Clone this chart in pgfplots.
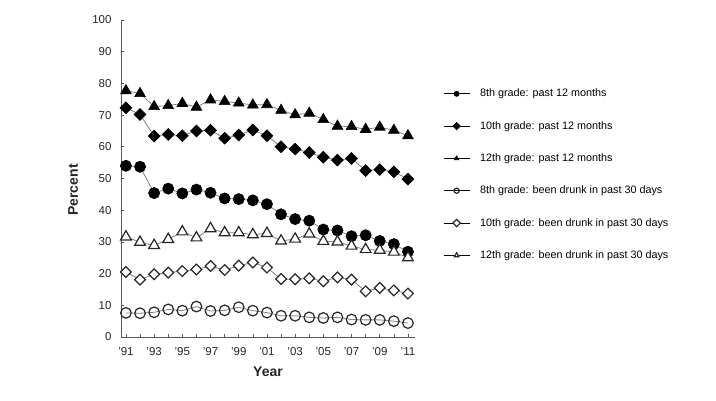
\documentclass[border=0pt]{standalone}
\usepackage{fontspec}
\setmainfont{Liberation Sans}
\usepackage{pgfplots}
\usepackage{pgfplotstable}
\pgfplotsset{compat=1.18}
\pgfplotstableread{
year a8 a10 a12 d8 d10 d12
1991 54.0 72.3 77.7 7.6 20.5 31.6
1992 53.7 70.2 76.8 7.5 18.1 29.9
1993 45.4 63.4 72.7 7.8 19.8 28.9
1994 46.8 63.9 73.0 8.7 20.3 30.8
1995 45.3 63.5 73.7 8.3 20.8 33.2
1996 46.5 65.0 72.5 9.6 21.3 31.3
1997 45.5 65.2 74.8 8.2 22.4 34.2
1998 43.7 62.7 74.3 8.4 21.1 32.9
1999 43.5 63.7 73.8 9.4 22.5 32.9
2000 43.1 65.3 73.2 8.3 23.5 32.3
2001 41.9 63.5 73.3 7.7 21.9 32.7
2002 38.7 60.0 71.5 6.7 18.3 30.3
2003 37.2 59.3 70.1 6.7 18.2 30.9
2004 36.7 58.2 70.6 6.2 18.5 32.5
2005 33.9 56.7 68.6 6.0 17.6 30.2
2006 33.6 55.8 66.5 6.2 18.8 30.0
2007 31.8 56.3 66.4 5.5 18.1 28.7
2008 32.1 52.5 65.5 5.4 14.4 27.6
2009 30.3 52.8 66.2 5.4 15.5 27.4
2010 29.3 52.1 65.2 5.0 14.7 26.8
2011 26.9 49.8 63.5 4.4 13.7 25.0
}\data
\begin{document}
\begin{tikzpicture}
\path[use as bounding box] (0,0) rectangle (716bp,401bp);
\begin{axis}[
  at={(121bp,64bp)}, anchor=south west,
  scale only axis, width=294bp, height=317bp,
  xmin=1990.65, xmax=2011.5, ymin=0, ymax=100,
  axis lines*=left,
  axis line style={black!65, line width=0.7bp},
  tick style={black!65, line width=0.6bp},
  tick align=inside, major tick length=3.5bp, minor tick length=3.5bp,
  xtick={1991,1993,...,2011},
  minor xtick={1992,1994,...,2010},
  xticklabels={'91,'93,'95,'97,'99,'01,'03,'05,'07,'09,'11},
  ytick={0,10,...,100},
  ticklabel style={font=\fontsize{11.5bp}{13bp}\selectfont, text=black!85},
  xticklabel style={yshift=-7bp},
  yticklabel style={xshift=-6bp},
  /pgf/number format/assume math mode=true,
  xlabel={Year}, ylabel={Percent},
  label style={font=\fontsize{14bp}{16bp}\selectfont\bfseries, text=black!85},
  xlabel style={at={(axis description cs:0.5,-0.110)}, anchor=center},
  ylabel style={at={(axis description cs:-0.163,0.464)}, anchor=center},
  clip=false,
  legend image code/.code={\draw[black, line width=0.9bp, mark repeat=2, mark phase=2, mark size=2.6bp] plot coordinates {(0bp,0bp) (13bp,0bp) (26bp,0bp)};},
  legend style={at={(axis description cs:1.085,0.795)}, anchor=north west, draw=none, fill=none,
    font=\fontsize{10.8bp}{13bp}\selectfont, row sep=19bp,
    /tikz/every odd column/.append style={column sep=8bp}},
  legend cell align=left,
]
\addplot[color=black!50, line width=0.8bp, mark=*, mark size=5.6bp, mark options={draw=black, fill=black, line width=0.6bp}] table[x=year,y=a8] {\data};
\addlegendentry{8th grade: past 12 months}
\addplot[color=black!50, line width=0.8bp, mark=square*, mark size=4.2bp, mark options={rotate=45, draw=black, fill=black, line width=0.6bp}] table[x=year,y=a10] {\data};
\addlegendentry{10th grade: past 12 months}
\addplot[color=black!50, line width=0.8bp, mark=triangle*, mark size=6.2bp, mark options={draw=black, fill=black, line width=0.6bp}] table[x=year,y=a12] {\data};
\addlegendentry{12th grade: past 12 months}
\addplot[color=black!50, line width=0.8bp, mark=o, mark size=5.3bp, mark options={draw=black!85, fill=white, line width=1.2bp}] table[x=year,y=d8] {\data};
\addlegendentry{8th grade: been drunk in past 30 days}
\addplot[color=black!50, line width=0.8bp, mark=square*, mark size=3.8bp, mark options={rotate=45, draw=black!85, fill=white, line width=1.2bp}] table[x=year,y=d10] {\data};
\addlegendentry{10th grade: been drunk in past 30 days}
\addplot[color=black!50, line width=0.8bp, mark=triangle*, mark size=6.2bp, mark options={draw=black!85, fill=white, line width=1.2bp}] table[x=year,y=d12] {\data};
\addlegendentry{12th grade: been drunk in past 30 days}
\end{axis}
\end{tikzpicture}
\end{document}
